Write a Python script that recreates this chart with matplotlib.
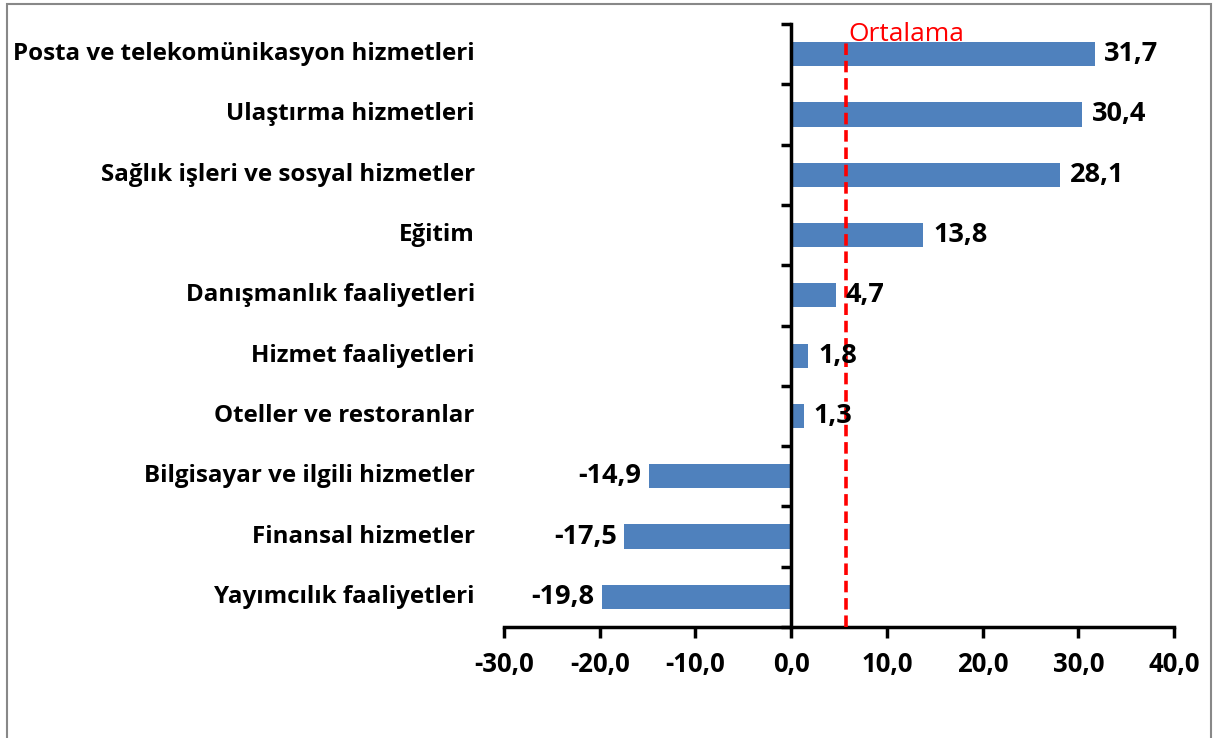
import matplotlib
matplotlib.use("Agg")
import matplotlib.pyplot as plt
from matplotlib.patches import Rectangle

categories = [
    "Posta ve telekomünikasyon hizmetleri",
    "Ulaştırma hizmetleri",
    "Sağlık işleri ve sosyal hizmetler",
    "Eğitim",
    "Danışmanlık faaliyetleri",
    "Hizmet faaliyetleri",
    "Oteller ve restoranlar",
    "Bilgisayar ve ilgili hizmetler",
    "Finansal hizmetler",
    "Yayımcılık faaliyetleri",
]
values = [31.7, 30.4, 28.1, 13.8, 4.7, 1.8, 1.3, -14.9, -17.5, -19.8]
average = 5.7
average_label = "Ortalama"
xticks = [-30, -20, -10, 0, 10, 20, 30, 40]

plt.rcParams['font.family'] = ['Open Sans', 'DejaVu Sans']
FS_CAT = 17.4
FS_VAL = 19.5
FS_TICK = 18.5
FS_AVG = 19

W, H = 1213, 738
fig = plt.figure(figsize=(W / 100, H / 100), dpi=100)
ax = fig.add_axes([504 / W, 1 - 627 / H, (1174 - 504) / W, (627 - 24) / H])

n = len(categories)
ypos = list(range(n))
ax.barh(ypos, values, height=0.4, color="#4F81BD", zorder=2)
ax.set_ylim(n - 0.5, -0.5)
ax.set_xlim(-30, 40)

fmt = lambda v: f"{v:.1f}".replace(".", ",")

for y, v in zip(ypos, values):
    if v >= 0:
        ax.annotate(fmt(v), (v, y), xytext=(7, 0), textcoords="offset points",
                    ha="left", va="center", fontsize=FS_VAL, fontweight="bold", zorder=4)
    else:
        ax.annotate(fmt(v), (v, y), xytext=(-5, 0), textcoords="offset points",
                    ha="right", va="center", fontsize=FS_VAL, fontweight="bold", zorder=4)

# average line
ax.axvline(average, ymin=0, ymax=0.975, color="#FF0000", lw=2.6,
           linestyle=(0, (3.2, 1.6)), zorder=3)
ax.annotate(average_label, (average, -0.22), xytext=(2, 0), textcoords="offset points",
            color="#FF0000", fontsize=FS_AVG, ha="left", va="baseline",
            annotation_clip=False)

# spines
for s in ["top", "right"]:
    ax.spines[s].set_visible(False)
ax.spines["left"].set_position(("data", 0))
ax.spines["left"].set_linewidth(2.5)
ax.spines["bottom"].set_linewidth(2.5)

ax.set_xticks(xticks)
ax.set_xticklabels([fmt(t) for t in xticks], fontsize=FS_TICK, fontweight="bold")
ax.tick_params(axis="x", direction="out", length=8, width=2.5, pad=9)

# y ticks at boundaries, no labels on the spine
ax.set_yticks([i - 0.5 for i in range(n + 1)])
ax.set_yticklabels([])
ax.tick_params(axis="y", direction="out", length=7, width=2.5)

# category labels at the left
for y, c in zip(ypos, categories):
    ax.annotate(c, (-30, y), xytext=(-21, 0), textcoords="offset points",
                ha="right", va="center", fontsize=FS_CAT, fontweight="bold",
                annotation_clip=False)

# figure border
fig.patches.append(Rectangle((6.5 / W, -0.01), (1211 - 6.5) / W, 1 - 4 / H + 0.01,
                             transform=fig.transFigure, fill=False,
                             edgecolor="#888888", lw=1.5))

fig.savefig("out.png", dpi=100)
